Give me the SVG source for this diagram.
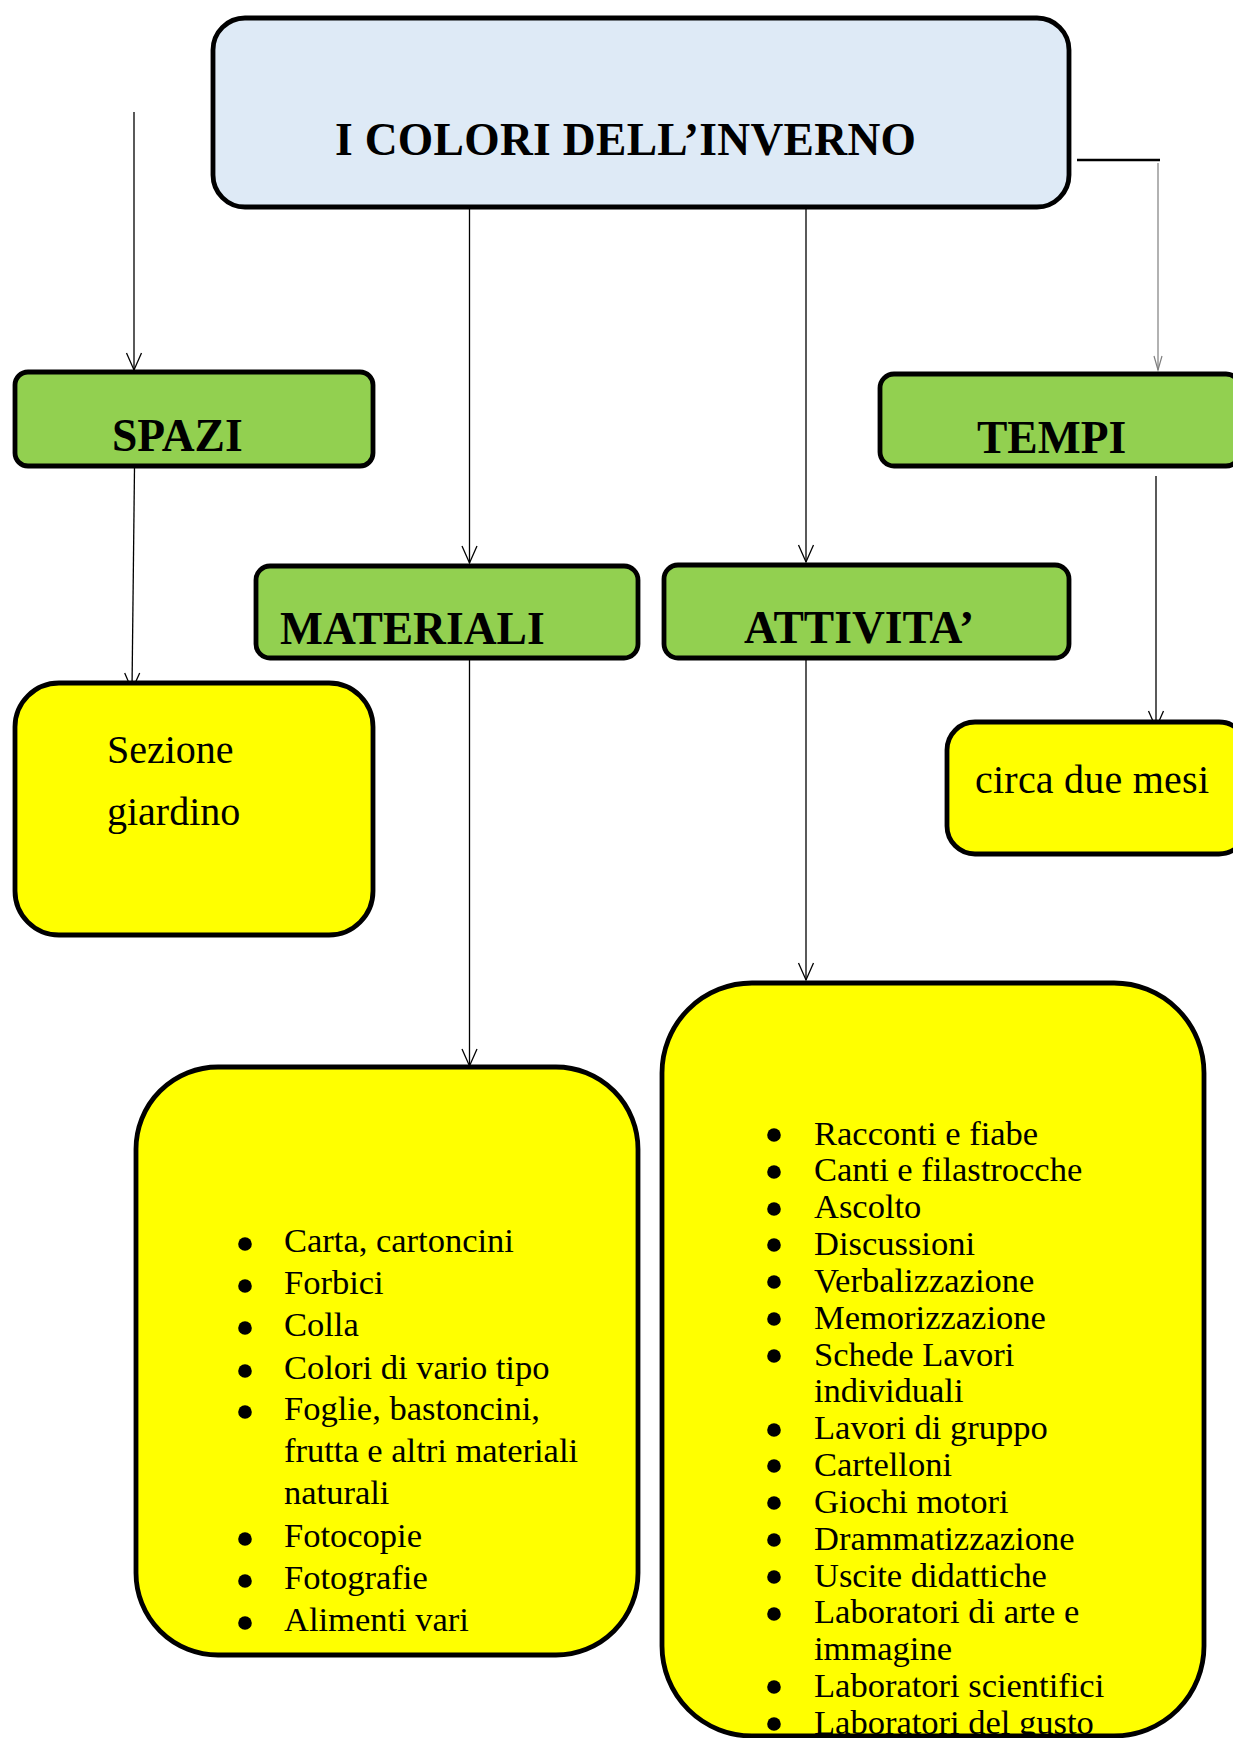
<svg xmlns="http://www.w3.org/2000/svg" width="1233" height="1738" viewBox="0 0 1233 1738">
<style>
.box{stroke:#000;stroke-width:4.8}
.title{fill:#DEEAF6}
.green{fill:#92D050}
.yellow{fill:#FFFF00}
.h{font-family:"Liberation Serif","Times New Roman",serif;font-weight:bold;font-size:45.5px;fill:#000}
.t{font-family:"Liberation Serif","Times New Roman",serif;font-size:40px;fill:#000}
.li{font-family:"Liberation Serif","Times New Roman",serif;font-size:34.5px;fill:#000}
.c{stroke:#000;stroke-width:1.3;fill:none}
.cg{stroke:#7f7f7f;stroke-width:1.2;fill:none}
</style>
<defs>
<marker id="arr" markerUnits="userSpaceOnUse" markerWidth="20" markerHeight="20" viewBox="-18 -10 20 20" refX="0" refY="0" orient="auto">
<path d="M-17,-7.5 L0,0 L-17,7.5" fill="none" stroke="#000" stroke-width="1.3"/>
</marker>
<marker id="arrg" markerUnits="userSpaceOnUse" markerWidth="20" markerHeight="20" viewBox="-18 -10 20 20" refX="0" refY="0" orient="auto">
<path d="M-14,-4 L0,0 L-14,4" fill="none" stroke="#7f7f7f" stroke-width="1.2"/>
</marker>
</defs>
<rect width="1233" height="1738" fill="#fff"/>

<g id="connectors">
<line class="c" x1="134" y1="112" x2="134" y2="370" marker-end="url(#arr)"/>
<line class="c" x1="134.5" y1="468" x2="132" y2="690" marker-end="url(#arr)"/>
<line class="c" x1="469.5" y1="207" x2="469.5" y2="563" marker-end="url(#arr)"/>
<line class="c" x1="806" y1="207" x2="806" y2="562" marker-end="url(#arr)"/>
<line x1="1077" y1="160" x2="1160" y2="160" stroke="#000" stroke-width="2.5"/>
<line class="cg" x1="1158" y1="163" x2="1158" y2="370" marker-end="url(#arrg)"/>
<line class="c" x1="1156" y1="476" x2="1156" y2="728" marker-end="url(#arr)"/>
<line class="c" x1="469.5" y1="660" x2="469.5" y2="1066" marker-end="url(#arr)"/>
<line class="c" x1="806" y1="660" x2="806" y2="980" marker-end="url(#arr)"/>
</g>

<g id="title">
<rect class="box title" x="213" y="18" width="856" height="189" rx="32"/>
<text class="h" x="335" y="155" textLength="581">I COLORI DELL’INVERNO</text>
</g>

<g id="spazi">
<rect class="box green" x="15" y="372" width="358" height="94" rx="13"/>
<text class="h" x="112" y="451">SPAZI</text>
</g>

<g id="tempi">
<rect class="box green" x="880" y="374" width="360" height="92" rx="14"/>
<text class="h" x="977" y="453">TEMPI</text>
</g>

<g id="materiali">
<rect class="box green" x="256" y="566" width="382" height="92" rx="14"/>
<text class="h" x="280" y="644">MATERIALI</text>
</g>

<g id="attivita">
<rect class="box green" x="664" y="565" width="405" height="93" rx="14"/>
<text class="h" x="744" y="643">ATTIVITA’</text>
</g>

<g id="sezione">
<rect class="box yellow" x="15" y="683" width="358" height="252" rx="44"/>
<text class="t" x="107" y="763">Sezione</text>
<text class="t" x="107" y="825">giardino</text>
</g>

<g id="durata">
<rect class="box yellow" x="947" y="722" width="300" height="132" rx="28"/>
<text class="t" x="975" y="793" textLength="234">circa due mesi</text>
</g>

<g id="lista-materiali">
<rect class="box yellow" x="136" y="1067" width="502" height="588" rx="82"/>
<g fill="#000">
<circle cx="245" cy="1244" r="6.8"/>
<circle cx="245" cy="1286" r="6.8"/>
<circle cx="245" cy="1328" r="6.8"/>
<circle cx="245" cy="1371" r="6.8"/>
<circle cx="245" cy="1412" r="6.8"/>
<circle cx="245" cy="1539" r="6.8"/>
<circle cx="245" cy="1581" r="6.8"/>
<circle cx="245" cy="1623" r="6.8"/>
</g>
<text class="li" x="284" y="1252">Carta, cartoncini</text>
<text class="li" x="284" y="1294">Forbici</text>
<text class="li" x="284" y="1336">Colla</text>
<text class="li" x="284" y="1379">Colori di vario tipo</text>
<text class="li" x="284" y="1420">Foglie, bastoncini,</text>
<text class="li" x="284" y="1462">frutta e altri materiali</text>
<text class="li" x="284" y="1504">naturali</text>
<text class="li" x="284" y="1547">Fotocopie</text>
<text class="li" x="284" y="1589">Fotografie</text>
<text class="li" x="284" y="1631">Alimenti vari</text>
</g>

<g id="lista-attivita">
<rect class="box yellow" x="662" y="983" width="542" height="753" rx="90"/>
<g fill="#000">
<circle cx="774" cy="1135" r="6.8"/>
<circle cx="774" cy="1172" r="6.8"/>
<circle cx="774" cy="1209" r="6.8"/>
<circle cx="774" cy="1245" r="6.8"/>
<circle cx="774" cy="1282" r="6.8"/>
<circle cx="774" cy="1319" r="6.8"/>
<circle cx="774" cy="1356" r="6.8"/>
<circle cx="774" cy="1430" r="6.8"/>
<circle cx="774" cy="1466" r="6.8"/>
<circle cx="774" cy="1503" r="6.8"/>
<circle cx="774" cy="1540" r="6.8"/>
<circle cx="774" cy="1577" r="6.8"/>
<circle cx="774" cy="1614" r="6.8"/>
<circle cx="774" cy="1687" r="6.8"/>
<circle cx="774" cy="1724" r="6.8"/>
</g>
<text class="li" x="814" y="1144.5">Racconti e fiabe</text>
<text class="li" x="814" y="1181.3">Canti e filastrocche</text>
<text class="li" x="814" y="1218.2">Ascolto</text>
<text class="li" x="814" y="1255">Discussioni</text>
<text class="li" x="814" y="1291.8">Verbalizzazione</text>
<text class="li" x="814" y="1328.7">Memorizzazione</text>
<text class="li" x="814" y="1365.5">Schede Lavori</text>
<text class="li" x="814" y="1402.3">individuali</text>
<text class="li" x="814" y="1439.1">Lavori di gruppo</text>
<text class="li" x="814" y="1476">Cartelloni</text>
<text class="li" x="814" y="1512.8">Giochi motori</text>
<text class="li" x="814" y="1549.6">Drammatizzazione</text>
<text class="li" x="814" y="1586.5">Uscite didattiche</text>
<text class="li" x="814" y="1623.3">Laboratori di arte e</text>
<text class="li" x="814" y="1660.1">immagine</text>
<text class="li" x="814" y="1697">Laboratori scientifici</text>
<text class="li" x="814" y="1733.8">Laboratori del gusto</text>
</g>
</svg>
